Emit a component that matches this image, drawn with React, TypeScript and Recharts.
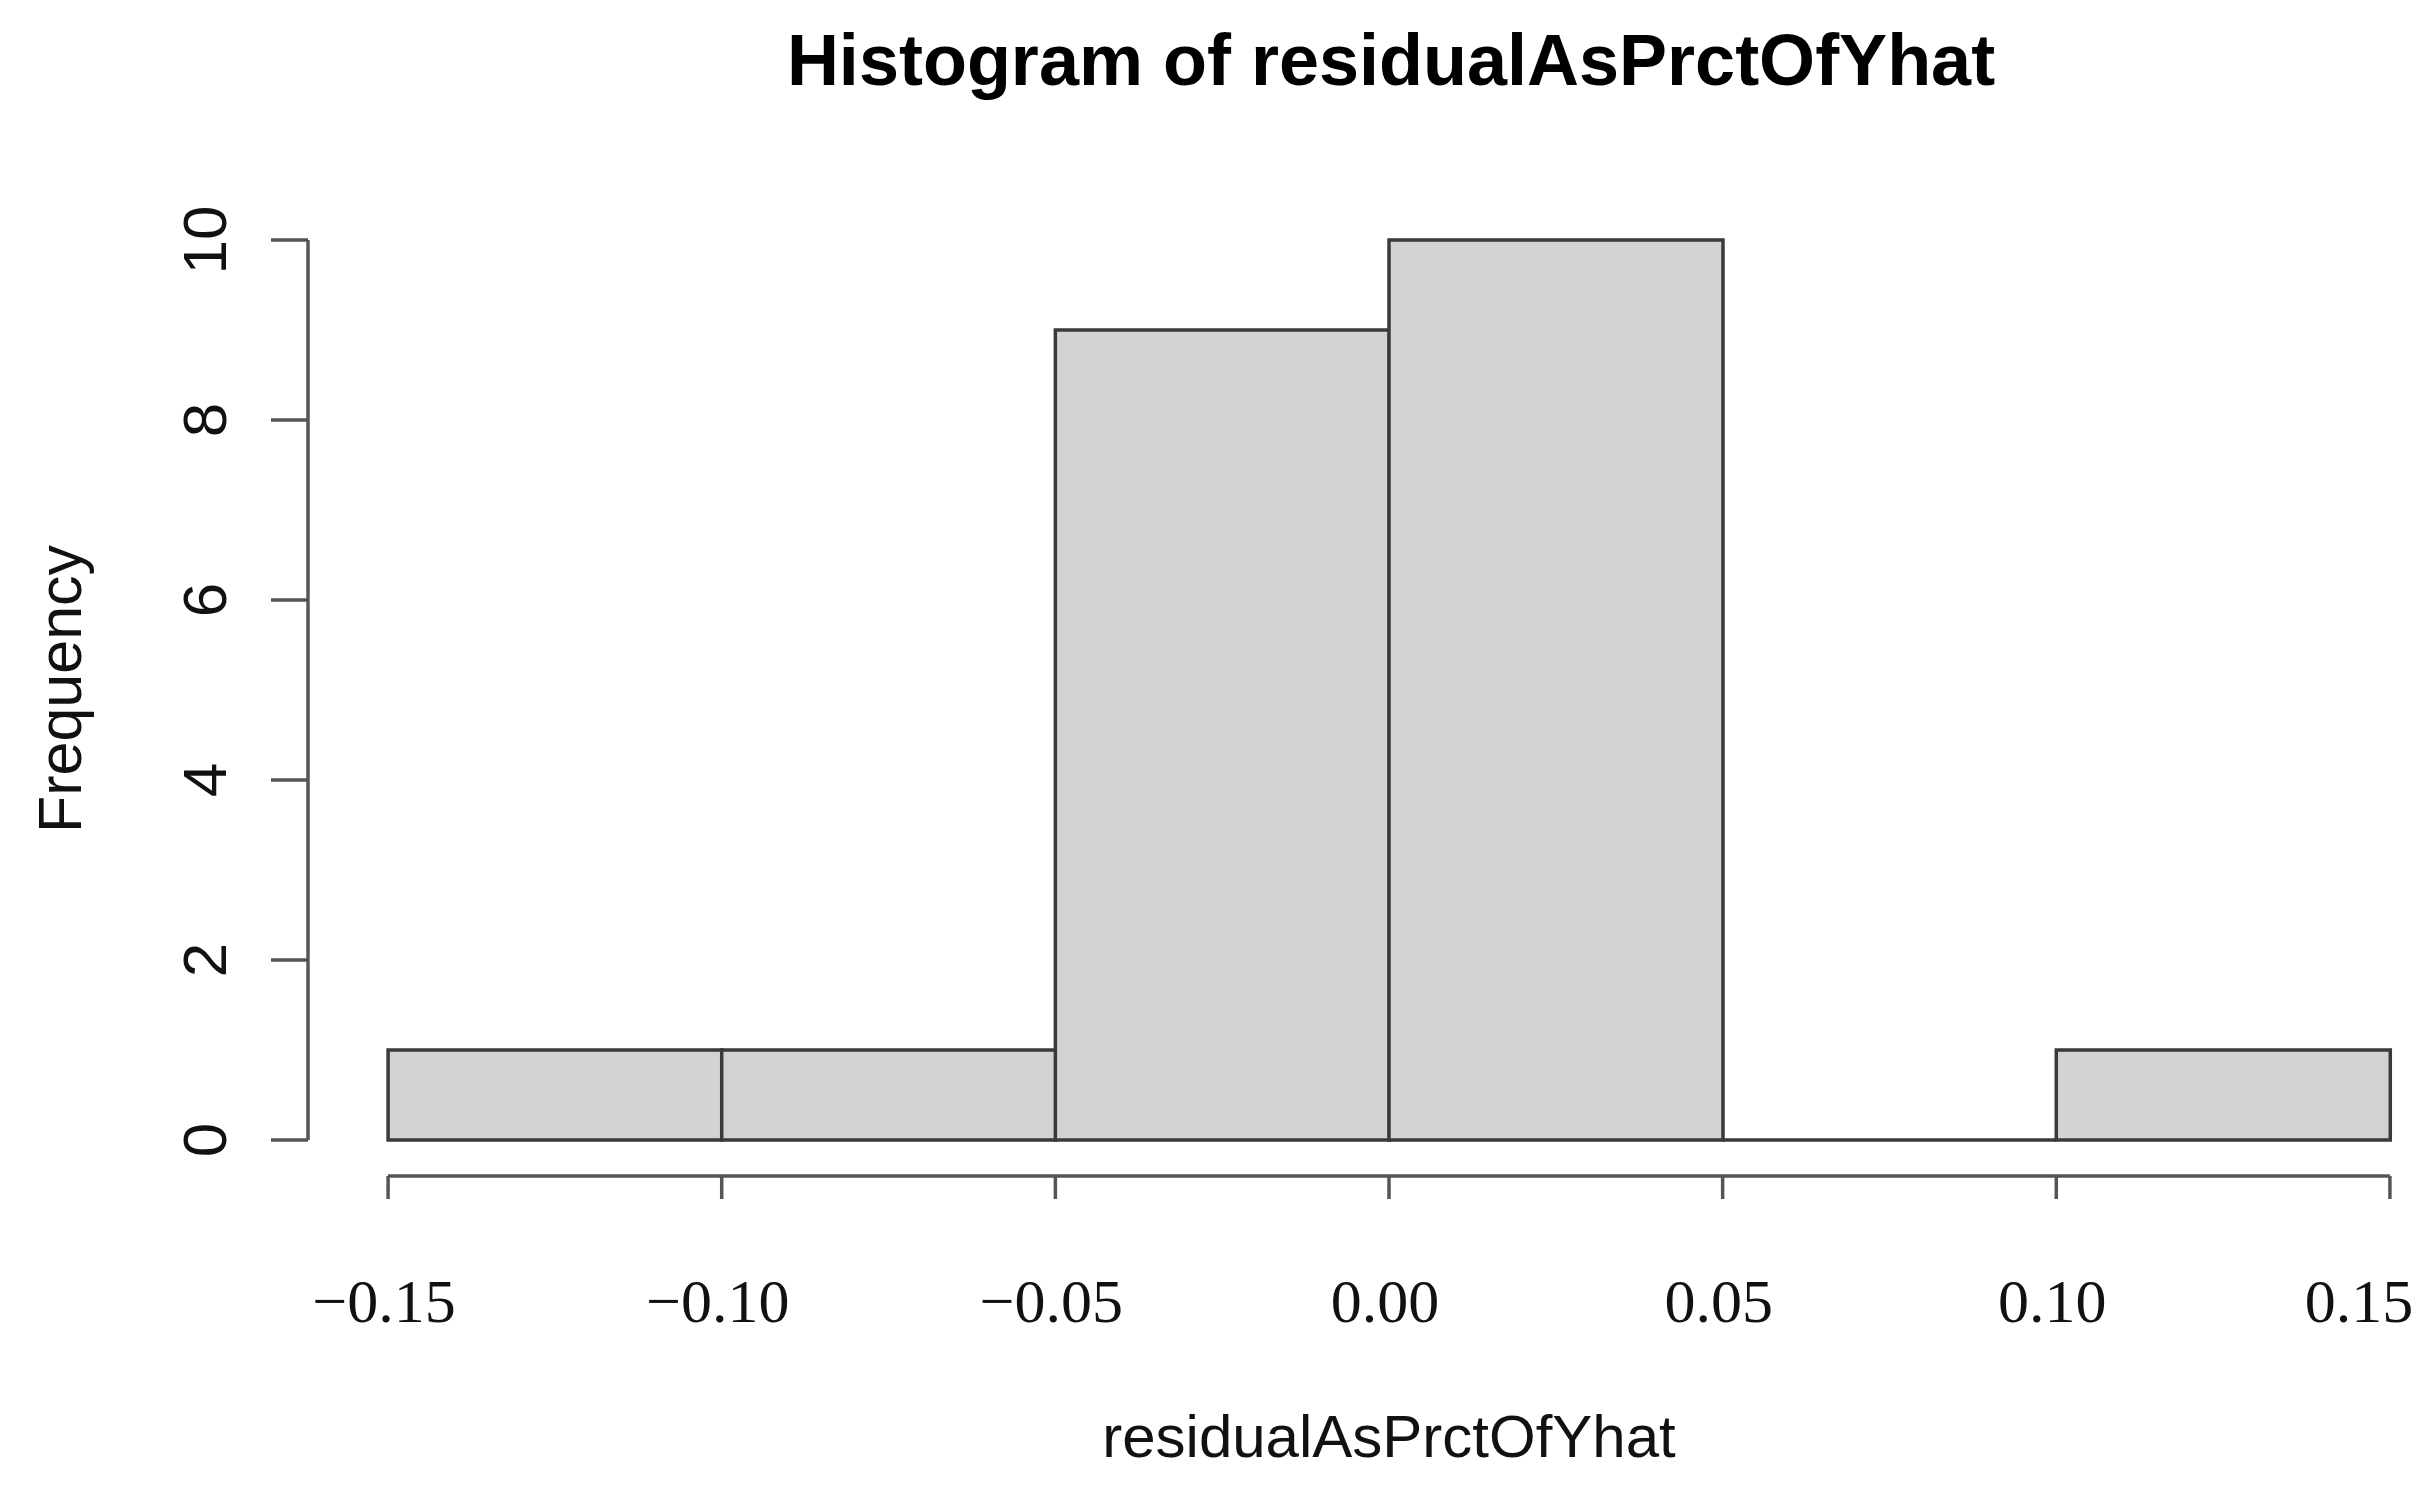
import React from 'react';
import { ComposedChart, Bar, XAxis, YAxis, ReferenceLine } from 'recharts';

// Histogram bins (bin centre) and counts
const binCenters = [-0.125, -0.075, -0.025, 0.025, 0.075, 0.125];
const frequencies = [1, 1, 9, 10, 0, 1];
const xTicks = [-0.15, -0.1, -0.05, 0.0, 0.05, 0.1, 0.15];
const yTicks = [0, 2, 4, 6, 8, 10];
// R-style axis range: data range extended by 4% on each side
const xDomain = [-0.162, 0.162];
const yDomain = [-0.4, 10.4];
const titleText = 'Histogram of residualAsPrctOfYhat';
const xLabelText = 'residualAsPrctOfYhat';
const yLabelText = 'Frequency';

const data = binCenters.map((c, i) => ({ mid: c, count: frequencies[i] }));

const SANS = '"Liberation Sans", Arial, sans-serif';
const SERIF = '"Liberation Serif", "Times New Roman", serif';
const AXIS_COLOR = '#555555';
const BAR_STROKE = '#3a3a3a';

const fmtX = (v: number) => {
  const s = Math.abs(v).toFixed(2);
  return v < -1e-9 ? '\u2212' + s : s;
};

const XTick = (props: any) => {
  const { x, y, payload } = props;
  const isLast = payload.value === xTicks[xTicks.length - 1];
  return (
    <text
      x={x}
      y={y}
      dx={isLast ? -31 : -4}
      textAnchor="middle"
      fontFamily={SERIF}
      fontSize={62}
      fill="#111"
    >
      {fmtX(payload.value)}
    </text>
  );
};

const YTick = (props: any) => {
  const { x, y, payload } = props;
  return (
    <text
      x={x}
      y={y}
      textAnchor="middle"
      transform={`rotate(-90 ${x} ${y})`}
      fontFamily={SANS}
      fontSize={62}
      fill="#111"
    >
      {String(payload.value)}
    </text>
  );
};

const HistBar = (props: any) => {
  const { x, y, width, height } = props;
  if (x == null || y == null) return null;
  const h = height || 0;
  const d = `M${x},${y + h} L${x},${y} L${x + width},${y} L${x + width},${y + h} Z`;
  return <path d={d} fill="#d3d3d3" stroke={BAR_STROKE} strokeWidth={3.5} strokeLinejoin="miter" />;
};

export default function App() {
  const chartW = 2470;
  const chartH = 1498;
  return (
    <div
      style={{
        position: 'absolute',
        left: 0,
        top: 0,
        width: 2431,
        height: 1498,
        overflow: 'hidden',
        background: '#ffffff',
      }}
    >
      <ComposedChart
        width={chartW}
        height={chartH}
        data={data}
        margin={{ top: 204, right: 0, bottom: 0, left: 0 }}
        barCategoryGap={0}
        barGap={0}
      >
        <XAxis
          dataKey="mid"
          type="number"
          domain={xDomain}
          ticks={xTicks}
          allowDataOverflow
          axisLine={false}
          tickLine={{ stroke: AXIS_COLOR, strokeWidth: 3.5 }}
          tickSize={23}
          tickMargin={123}
          height={322}
          tick={<XTick />}
          interval={0}
        />
        <YAxis
          type="number"
          domain={yDomain}
          ticks={yTicks}
          allowDataOverflow
          axisLine={false}
          tickLine={{ stroke: AXIS_COLOR, strokeWidth: 3.5 }}
          tickSize={37}
          tickMargin={45}
          width={308}
          tick={<YTick />}
          interval={0}
        />
        <Bar dataKey="count" isAnimationActive={false} shape={<HistBar />} />
        <ReferenceLine
          segment={[{ x: xTicks[0], y: yDomain[0] }, { x: xTicks[xTicks.length - 1], y: yDomain[0] }]}
          stroke={AXIS_COLOR}
          strokeWidth={3.5}
          ifOverflow="visible"
        />
        <ReferenceLine
          segment={[{ x: xDomain[0], y: yTicks[0] }, { x: xDomain[0], y: yTicks[yTicks.length - 1] }]}
          stroke={AXIS_COLOR}
          strokeWidth={3.5}
          ifOverflow="visible"
        />
      </ComposedChart>
      <svg
        width={2431}
        height={1498}
        style={{ position: 'absolute', left: 0, top: 0, pointerEvents: 'none' }}
      >
        <text x={1391} y={85} textAnchor="middle" fontFamily={SANS} fontWeight="bold" fontSize={72} fill="#000">
          {titleText}
        </text>
        <text x={1389} y={1457} textAnchor="middle" fontFamily={SANS} fontSize={60} fill="#111">
          {xLabelText}
        </text>
        <text
          x={81}
          y={689}
          textAnchor="middle"
          transform="rotate(-90 81 689)"
          fontFamily={SANS}
          fontSize={61}
          fill="#111"
        >
          {yLabelText}
        </text>
      </svg>
    </div>
  );
}
